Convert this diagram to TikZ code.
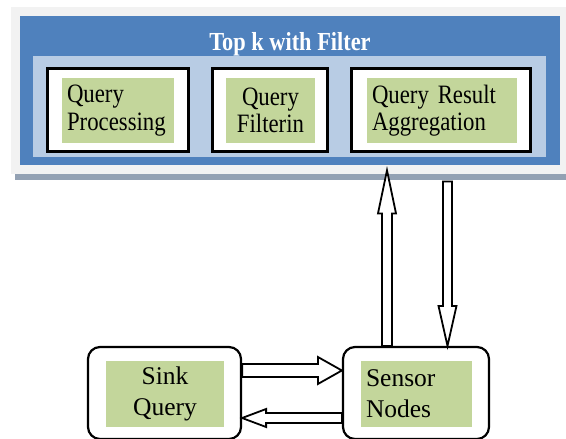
\documentclass[tikz,border=0pt]{standalone}
\usepackage{fontspec}
\setmainfont{Liberation Serif}
\newfontfamily\narrowserif{Liberation Serif}[FakeStretch=0.86]
\usetikzlibrary{calc}

\definecolor{panelgray}{HTML}{F2F2F2}
\definecolor{shadowgray}{HTML}{93A1B3}
\definecolor{topblue}{HTML}{4F81BD}
\definecolor{paleblue}{HTML}{B8CCE4}
\definecolor{leafgreen}{HTML}{C3D69B}

% block arrow: from, to, half shaft, half head, head length
\newcommand{\fatarrow}[5]{%
  \draw[blockarrow] let \p1=(#1), \p2=(#2),
    \n1={atan2(\y2-\y1,\x2-\x1)}, \n2={veclen(\x2-\x1,\y2-\y1)} in
    [shift={(\p1)},rotate=\n1]
    (0,#3) -- (\n2-#5,#3) -- (\n2-#5,#4) -- (\n2,0) -- (\n2-#5,-#4) -- (\n2-#5,-#3) -- (0,-#3) -- cycle;}

\begin{document}
\begin{tikzpicture}[x=1pt,y=-1pt,
  modbox/.style={draw=black,line width=3pt,fill=white,minimum width=#1,minimum height=83,inner sep=0pt},
  nodebox/.style={draw=black,line width=2.2pt,fill=white,rounded corners=12pt,minimum width=#1,minimum height=92,inner sep=0pt},
  leaf/.style={fill=leafgreen,inner sep=5pt,text width=#1,font=\narrowserif\fontsize{26.5}{27.5}\selectfont},
  bigleaf/.style={leaf=#1,font=\fontsize{25.5}{31}\selectfont},
  blockarrow/.style={draw=black,line width=1.8pt,fill=white}]
\path[use as bounding box] (0,0) rectangle (566,439);
\node[fill=panelgray,anchor=north west,inner sep=0pt,minimum width=555,minimum height=167] (panel) at (11,7) {};
\fill[shadowgray] (15,174) rectangle (566,180);
\fill[topblue] (20,16) rectangle (560,165);
\fill[paleblue] (33,56) rectangle (546,157);
\node[text=white,font=\narrowserif\bfseries\fontsize{26}{28}\selectfont] (title) at (290,44) {Top k with Filter};
\node[modbox=141] (procbox) at (118,110) {};
\node[modbox=115] (filtbox) at (270,110) {};
\node[modbox=179] (aggrbox) at (441,110) {};
\node[leaf=102,align=left,minimum height=65] (proc) at (118,110.5) {Query\\Processing};
\node[leaf=79,align=center,minimum height=65] (filt) at (270.5,110.5) {Query\\Filterin};
\node[leaf=140,align=left,minimum height=65] (aggr) at (442,110.5) {Query Result\\Aggregation};
\node[nodebox=153] (sinkbox) at (164.5,393) {};
\node[nodebox=146] (sensorbox) at (416,393) {};
\node[bigleaf=108,align=center,minimum height=66] (sink) at (165,394) {Sink\\Query};
\node[bigleaf=101,align=left,minimum height=66] (sensor) at (416.5,394) {Sensor\\Nodes};
\coordinate (a1s) at (sinkbox.east |- 0,370.5);
\coordinate (a1e) at (sensorbox.west |- 0,370.5);
\coordinate (a2s) at (sensorbox.west |- 0,418);
\coordinate (a2e) at (sinkbox.east |- 0,418);
\coordinate (a3s) at (sensorbox.north -| 387,0);
\coordinate (a3e) at ([yshift=4pt]panel.south -| 387,0);
\coordinate (a4s) at ([yshift=-7pt]panel.south -| 447.5,0);
\coordinate (a4e) at (sensorbox.north -| 447.5,0);
\fatarrow{a1s}{a1e}{6.5}{13.5}{24}
\fatarrow{a2s}{a2e}{5}{9}{24}
\fatarrow{a3s}{a3e}{5}{9}{43}
\fatarrow{a4s}{a4e}{4.5}{9}{40}
\end{tikzpicture}
\end{document}
